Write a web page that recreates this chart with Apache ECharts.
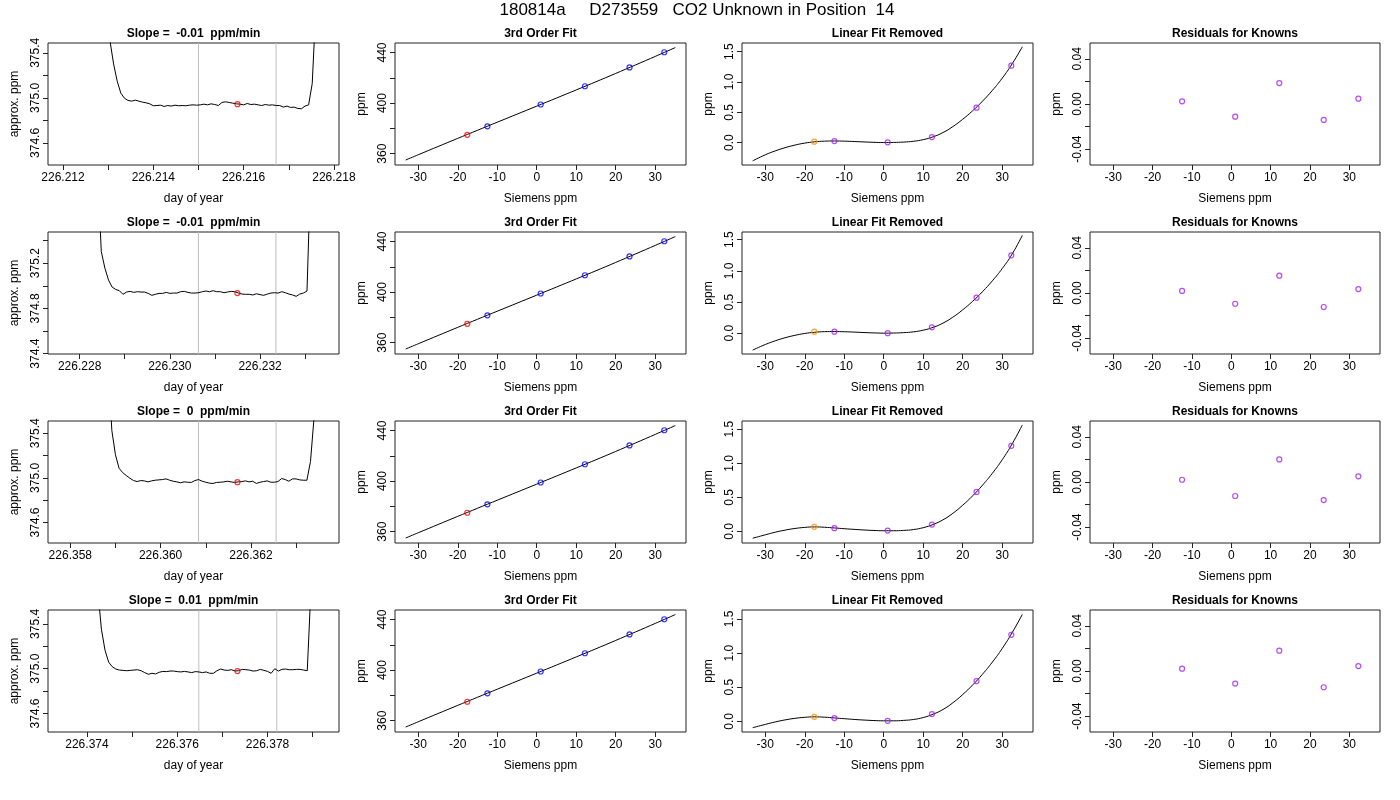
<!DOCTYPE html>
<html><head><meta charset="utf-8">
<script src="https://cdn.jsdelivr.net/npm/echarts@6/dist/echarts.min.js"></script>
<style>html,body{margin:0;padding:0;background:#fff}#c{width:1400px;height:800px}</style>
</head><body><div id="c"></div>
<script>
// ---------------- data ----------------
const mainTitle = '180814a     D273559   CO2 Unknown in Position  14';
const slopeText = ['-0.01', '-0.01', '0', '0.01'];

// raw analyser trace [day of year, approx. ppm]
const trace1 = [[226.21296,376.50],[226.21304,375.505],[226.21312,375.301],[226.21320,375.148],[226.21328,375.042],[226.21336,374.997],[226.21344,374.977],[226.21352,374.971],[226.21360,374.980],[226.21368,374.971],[226.21376,374.962],[226.21384,374.956],[226.21392,374.947],[226.21400,374.930],[226.21408,374.932],[226.21416,374.935],[226.21424,374.924],[226.21432,374.932],[226.21440,374.927],[226.21448,374.935],[226.21456,374.930],[226.21464,374.932],[226.21472,374.930],[226.21480,374.935],[226.21488,374.938],[226.21496,374.935],[226.21504,374.938],[226.21512,374.944],[226.21520,374.938],[226.21528,374.947],[226.21536,374.941],[226.21544,374.932],[226.21552,374.959],[226.21560,374.965],[226.21568,374.959],[226.21576,374.953],[226.21584,374.947],[226.21592,374.944],[226.21600,374.938],[226.21608,374.950],[226.21616,374.941],[226.21624,374.944],[226.21632,374.938],[226.21640,374.932],[226.21648,374.941],[226.21656,374.935],[226.21664,374.938],[226.21672,374.932],[226.21680,374.932],[226.21688,374.918],[226.21696,374.927],[226.21704,374.915],[226.21712,374.918],[226.21720,374.906],[226.21728,374.903],[226.21736,374.927],[226.21744,374.938],[226.21752,375.127],[226.21760,375.800]];
const trace2 = [[226.22840,376.0],[226.22848,375.303],[226.22856,375.156],[226.22864,375.051],[226.22872,374.989],[226.22880,374.968],[226.22888,374.957],[226.22896,374.925],[226.22904,374.945],[226.22912,374.951],[226.22920,374.942],[226.22928,374.948],[226.22936,374.945],[226.22944,374.945],[226.22952,374.933],[226.22960,374.916],[226.22968,374.925],[226.22976,374.933],[226.22984,374.933],[226.22992,374.942],[226.23000,374.933],[226.23008,374.936],[226.23016,374.936],[226.23024,374.948],[226.23032,374.951],[226.23040,374.942],[226.23048,374.936],[226.23056,374.936],[226.23064,374.939],[226.23072,374.948],[226.23080,374.954],[226.23088,374.948],[226.23096,374.957],[226.23104,374.948],[226.23112,374.948],[226.23120,374.939],[226.23128,374.945],[226.23136,374.951],[226.23144,374.948],[226.23152,374.936],[226.23160,374.927],[226.23168,374.925],[226.23176,374.925],[226.23184,374.919],[226.23192,374.930],[226.23200,374.922],[226.23208,374.916],[226.23216,374.927],[226.23224,374.936],[226.23232,374.939],[226.23240,374.936],[226.23248,374.948],[226.23256,374.939],[226.23264,374.927],[226.23272,374.919],[226.23280,374.907],[226.23288,374.927],[226.23296,374.936],[226.23304,374.954],[226.23312,376.0]];
const trace3 = [[226.35884,376.0],[226.35892,375.424],[226.35900,375.207],[226.35908,375.086],[226.35916,375.047],[226.35924,375.021],[226.35932,374.997],[226.35940,374.976],[226.35948,374.967],[226.35956,374.976],[226.35964,374.973],[226.35972,374.964],[226.35980,374.973],[226.35988,374.979],[226.35996,374.982],[226.36004,374.985],[226.36012,374.991],[226.36020,374.979],[226.36028,374.970],[226.36036,374.964],[226.36044,374.956],[226.36052,374.964],[226.36060,374.961],[226.36068,374.959],[226.36076,374.976],[226.36084,374.985],[226.36092,374.970],[226.36100,374.961],[226.36108,374.953],[226.36116,374.950],[226.36124,374.959],[226.36132,374.961],[226.36140,374.964],[226.36148,374.970],[226.36156,374.964],[226.36164,374.959],[226.36172,374.964],[226.36180,374.967],[226.36188,374.973],[226.36196,374.964],[226.36204,374.970],[226.36212,374.950],[226.36220,374.961],[226.36228,374.967],[226.36236,374.973],[226.36244,374.961],[226.36252,374.961],[226.36260,374.967],[226.36268,374.994],[226.36276,374.985],[226.36284,374.970],[226.36292,374.991],[226.36300,374.991],[226.36308,374.982],[226.36316,374.979],[226.36324,374.979],[226.36332,375.148],[226.36340,375.550],[226.36348,376.5]];
const trace4 = [[226.37424,375.7],[226.37432,375.353],[226.37440,375.165],[226.37448,375.059],[226.37456,375.018],[226.37464,374.997],[226.37472,374.988],[226.37480,374.985],[226.37488,374.982],[226.37496,374.985],[226.37504,374.988],[226.37512,374.991],[226.37520,374.982],[226.37528,374.965],[226.37536,374.950],[226.37544,374.959],[226.37552,374.953],[226.37560,374.968],[226.37568,374.976],[226.37576,374.974],[226.37584,374.979],[226.37592,374.979],[226.37600,374.974],[226.37608,374.971],[226.37616,374.976],[226.37624,374.971],[226.37632,374.965],[226.37640,374.974],[226.37648,374.971],[226.37656,374.965],[226.37664,374.971],[226.37672,374.959],[226.37680,374.959],[226.37688,374.982],[226.37696,374.997],[226.37704,374.988],[226.37712,374.985],[226.37720,374.991],[226.37728,374.979],[226.37736,374.982],[226.37744,374.994],[226.37752,374.991],[226.37760,374.988],[226.37768,374.979],[226.37776,374.982],[226.37784,374.994],[226.37792,374.985],[226.37800,374.976],[226.37808,374.959],[226.37816,375.000],[226.37824,374.979],[226.37832,374.994],[226.37840,374.997],[226.37848,374.991],[226.37856,374.991],[226.37864,374.994],[226.37872,374.994],[226.37880,374.988],[226.37888,374.982],[226.37896,375.7],[226.37904,376.5]];
const traces = [trace1, trace2, trace3, trace4];

// averaging window and picked value
const windowStart = [226.215001, 226.230633, 226.360839, 226.376478];
const windowEnd   = [226.216719, 226.232351, 226.362558, 226.378204];
const pickTime = [226.215864, 226.231496, 226.361702, 226.377333];
const pickPpm  = [374.944, 374.936, 374.961, 374.979];

// time axis ticks / labels
const timeTicks = [
  [226.212,226.213,226.214,226.215,226.216,226.217,226.218],
  [226.228,226.229,226.230,226.231,226.232,226.233],
  [226.358,226.359,226.360,226.361,226.362,226.363],
  [226.374,226.375,226.376,226.377,226.378,226.379]];
const timeLabels = [
  [226.212,226.214,226.216,226.218],
  [226.228,226.230,226.232],
  [226.358,226.360,226.362],
  [226.374,226.376,226.378]];
const traceTicks = [
  [374.6,374.8,375.0,375.2,375.4],
  [374.4,374.6,374.8,375.0,375.2,375.4],
  [374.6,374.8,375.0,375.2,375.4],
  [374.6,374.8,375.0,375.2,375.4]];
const traceLabels = [
  [374.6,375.0,375.4],
  [374.4,374.8,375.2],
  [374.6,375.0,375.4],
  [374.6,375.0,375.4]];

// calibration (Siemens ppm vs ppm)
const siemensKnown = [-12.5, 1.0, 12.2, 23.5, 32.3];
const siemensUnknown = -17.6;
const ppmKnown = [381.6, 398.9, 413.3, 428.2, 440.2];
const fitX = [-33.2,-30,-25,-20,-15,-10,-5,0,5,10,15,20,25,30,35.1];
const fitPpm = [355.0,359.17,365.67,372.12,378.52,384.88,391.24,397.6,403.98,410.4,416.87,423.44,430.13,436.88,443.9];

// linear fit removed
const curveX = [-33.2,-30,-27.5,-25,-22.5,-20,-17.5,-15,-12.5,-10,-7.5,-5,-2.5,0,2.5,5,7.5,10,12.5,15,17.5,20,22.5,25,27.5,30,32.5,35.1];
const curveRows = [
  [-0.30,-0.20,-0.136,-0.083,-0.040,-0.007,0.014,0.025,0.028,0.025,0.019,0.012,0.006,0.002,0.004,0.010,0.023,0.050,0.097,0.167,0.265,0.386,0.525,0.683,0.861,1.063,1.298,1.581],
  [-0.27,-0.18,-0.121,-0.072,-0.033,-0.003,0.016,0.026,0.028,0.025,0.019,0.012,0.006,0.002,0.004,0.010,0.023,0.050,0.095,0.163,0.258,0.376,0.512,0.666,0.840,1.037,1.268,1.570],
  [-0.10,-0.05,-0.012,0.019,0.043,0.059,0.066,0.061,0.051,0.040,0.030,0.021,0.014,0.010,0.010,0.015,0.027,0.055,0.102,0.170,0.266,0.385,0.522,0.678,0.853,1.052,1.283,1.563],
  [-0.093,-0.045,-0.009,0.021,0.044,0.059,0.066,0.061,0.050,0.039,0.028,0.019,0.012,0.008,0.008,0.014,0.027,0.056,0.105,0.174,0.272,0.393,0.532,0.690,0.867,1.067,1.297,1.567]];
const removedKnown = [
  [0.027,0.005,0.093,0.577,1.269],
  [0.026,0.002,0.096,0.570,1.250],
  [0.048,0.012,0.100,0.580,1.256],
  [0.048,0.007,0.106,0.590,1.268]];
const removedUnknown = [0.016, 0.026, 0.067, 0.066];

// residuals for knowns
const residuals = [
  [0.0024,-0.0112,0.0185,-0.0141,0.0047],
  [0.0018,-0.0095,0.0153,-0.0124,0.0035],
  [0.0020,-0.0124,0.0200,-0.0160,0.0050],
  [0.0021,-0.0111,0.0180,-0.0144,0.0044]];

const siemensTicks = [-30,-20,-10,0,10,20,30];
const fitTicks = [360,380,400,420,440];
const fitLabels = [360,400,440];
const removedTicks = [0,0.5,1.0,1.5];
const residTicks = [-0.04,-0.02,0,0.02,0.04];
const residLabels = [-0.04,0,0.04];

// ---------------- layout / style ----------------
const FONT = 'Liberation Sans, Arial, Helvetica, sans-serif';
const colLeft = [48, 395, 742, 1090];
const colWidth = [291, 291, 291, 290];
const rowTop = [43, 232, 421, 610];
const rowHeight = 122;
const xRange1 = [[226.211667,226.218113],[226.227299,226.233749],[226.357506,226.363951],[226.373137,226.379583]];
const yRange1 = [[374.404,375.487],[374.397,375.476],[374.416,375.510],[374.435,375.524]];
const siemensRange = [-35.9, 37.8];
const fitRange = [351.06, 447.5];
const removedRange = [[-0.368,1.643],[-0.332,1.623],[-0.170,1.621],[-0.156,1.631]];
const residRange = [-0.054, 0.054];

const C_BLUE = '#0000FF', C_RED = '#FF0000', C_PURPLE = '#A020F0', C_ORANGE = '#FF8C00', C_GRAY = '#BEBEBE';
const panelTitles = r => ['Slope =  ' + slopeText[r] + '  ppm/min', '3rd Order Fit', 'Linear Fit Removed', 'Residuals for Knowns'];

const grids = [], xAxes = [], yAxes = [], series = [];
const titles = [{
  text: mainTitle, left: 697, top: 2, textAlign: 'center', padding: 0,
  textStyle: {fontSize: 17, fontWeight: 'normal', color: '#000', fontFamily: FONT}
}];

function axisBase(g, min, max, ticks, labels, fmt, name, isY) {
  return {
    gridIndex: g, type: 'value', min: min, max: max,
    axisLine: {show: false, onZero: false}, splitLine: {show: false},
    axisTick: {show: true, length: 5, customValues: ticks, lineStyle: {color: '#222', width: 1}},
    axisLabel: {customValues: labels, formatter: fmt, fontSize: 12, color: '#000', fontFamily: FONT,
                margin: isY ? 6 : 7, rotate: isY ? 90 : 0, hideOverlap: false},
    name: name, nameLocation: 'middle', nameGap: isY ? 27 : 28,
    nameTextStyle: {fontSize: 12, color: '#000', fontFamily: FONT}
  };
}
const hollow = (color) => ({symbol: 'circle', symbolSize: 5,
  itemStyle: {color: 'rgba(0,0,0,0)', borderColor: color, borderWidth: 1.2}});

for (let r = 0; r < 4; r++) {
  const pt = panelTitles(r);
  for (let c = 0; c < 4; c++) {
    grids.push({left: colLeft[c], top: rowTop[r], width: colWidth[c], height: rowHeight,
                show: true, borderColor: '#222', borderWidth: 1, backgroundColor: 'transparent'});
    titles.push({text: pt[c], left: colLeft[c] + colWidth[c] / 2, top: rowTop[r] - 15, textAlign: 'center', padding: 0,
                 textStyle: {fontSize: 12, fontWeight: 'bold', color: '#000', fontFamily: FONT}});
  }
  // column 1 : trace
  let g = r * 4;
  xAxes.push(axisBase(g, xRange1[r][0], xRange1[r][1], timeTicks[r], timeLabels[r], v => v.toFixed(3), 'day of year', false));
  yAxes.push(axisBase(g, yRange1[r][0], yRange1[r][1], traceTicks[r], traceLabels[r], v => v.toFixed(1), 'approx. ppm', true));
  [windowStart[r], windowEnd[r]].forEach(t => {
    series.push({type: 'line', xAxisIndex: g, yAxisIndex: g, showSymbol: false, silent: true, z: 1,
      data: [[t, yRange1[r][0]], [t, yRange1[r][1]]], lineStyle: {color: C_GRAY, width: 1}});
  });
  series.push({type: 'line', xAxisIndex: g, yAxisIndex: g, data: traces[r], showSymbol: false, clip: true,
    lineStyle: {color: '#000', width: 1}, z: 2});
  series.push(Object.assign({type: 'scatter', xAxisIndex: g, yAxisIndex: g, z: 3,
    data: [[pickTime[r], pickPpm[r]]]}, hollow(C_RED)));

  // column 2 : 3rd order fit
  g = r * 4 + 1;
  xAxes.push(axisBase(g, siemensRange[0], siemensRange[1], siemensTicks, siemensTicks, v => String(v), 'Siemens ppm', false));
  yAxes.push(axisBase(g, fitRange[0], fitRange[1], fitTicks, fitLabels, v => String(v), 'ppm', true));
  series.push({type: 'line', xAxisIndex: g, yAxisIndex: g, data: fitX.map((x, i) => [x, fitPpm[i]]),
    showSymbol: false, smooth: 0.3, lineStyle: {color: '#000', width: 1}});
  series.push(Object.assign({type: 'scatter', xAxisIndex: g, yAxisIndex: g, z: 3,
    data: siemensKnown.map((x, i) => [x, ppmKnown[i]])}, hollow(C_BLUE)));
  series.push(Object.assign({type: 'scatter', xAxisIndex: g, yAxisIndex: g, z: 3,
    data: [[siemensUnknown, pickPpm[r]]]}, hollow(C_RED)));

  // column 3 : linear fit removed
  g = r * 4 + 2;
  xAxes.push(axisBase(g, siemensRange[0], siemensRange[1], siemensTicks, siemensTicks, v => String(v), 'Siemens ppm', false));
  yAxes.push(axisBase(g, removedRange[r][0], removedRange[r][1], removedTicks, removedTicks, v => v.toFixed(1), 'ppm', true));
  series.push({type: 'line', xAxisIndex: g, yAxisIndex: g, data: curveX.map((x, i) => [x, curveRows[r][i]]),
    showSymbol: false, smooth: 0.5, lineStyle: {color: '#000', width: 1}});
  series.push(Object.assign({type: 'scatter', xAxisIndex: g, yAxisIndex: g, z: 3,
    data: siemensKnown.map((x, i) => [x, removedKnown[r][i]])}, hollow(C_PURPLE)));
  series.push(Object.assign({type: 'scatter', xAxisIndex: g, yAxisIndex: g, z: 3,
    data: [[siemensUnknown, removedUnknown[r]]]}, hollow(C_ORANGE)));

  // column 4 : residuals
  g = r * 4 + 3;
  xAxes.push(axisBase(g, siemensRange[0], siemensRange[1], siemensTicks, siemensTicks, v => String(v), 'Siemens ppm', false));
  yAxes.push(axisBase(g, residRange[0], residRange[1], residTicks, residLabels, v => v.toFixed(2), 'ppm', true));
  series.push(Object.assign({type: 'scatter', xAxisIndex: g, yAxisIndex: g, z: 3,
    data: siemensKnown.map((x, i) => [x, residuals[r][i]])}, hollow(C_PURPLE)));
}

const chart = echarts.init(document.getElementById('c'), null, {renderer: 'canvas'});
chart.setOption({
  animation: false, backgroundColor: '#fff',
  textStyle: {fontFamily: FONT},
  title: titles, grid: grids, xAxis: xAxes, yAxis: yAxes, series: series
});
</script></body></html>
